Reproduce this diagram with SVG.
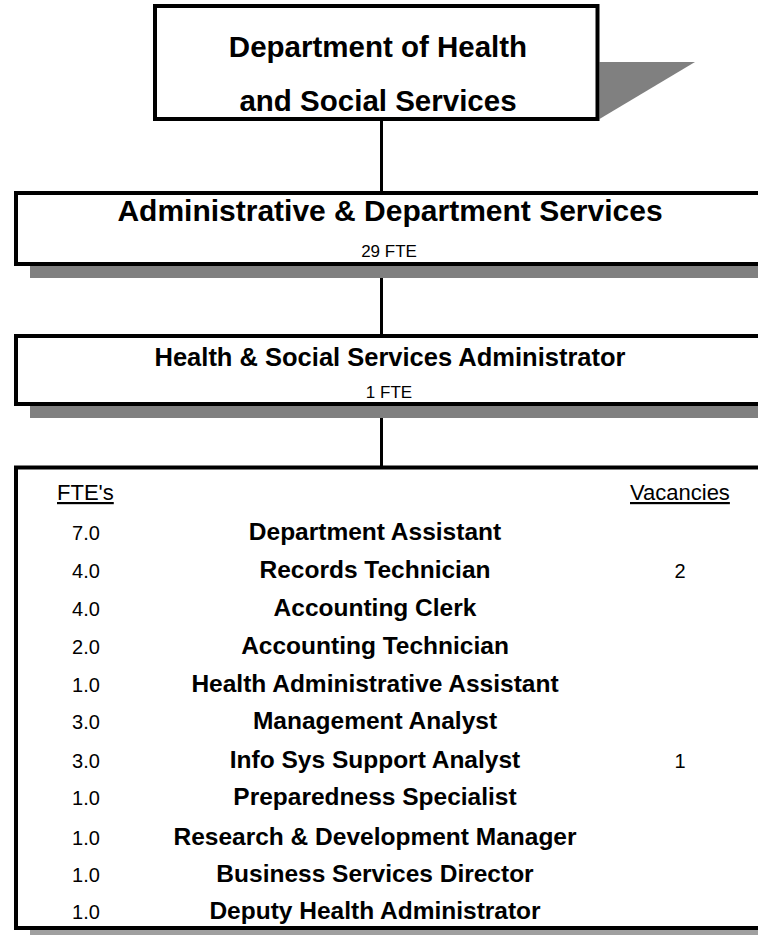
<svg xmlns="http://www.w3.org/2000/svg" width="758" height="935" viewBox="0 0 758 935">
<style>
.box{fill:#fff;stroke:#000;stroke-width:4}
.shadow{fill:#808080}
.t{font-family:"Liberation Sans",Arial,sans-serif;fill:#000}
.b{font-weight:bold}
.c{text-anchor:middle}
.conn{stroke:#000;stroke-width:3;fill:none}
</style>
<rect width="758" height="935" fill="#fff"/>
<g id="connectors">
<line class="conn" x1="381.5" y1="121" x2="381.5" y2="193"/>
<line class="conn" x1="381.5" y1="266" x2="381.5" y2="336"/>
<line class="conn" x1="381.5" y1="406" x2="381.5" y2="467"/>
</g>
<g id="dept">
<polygon class="shadow" points="599.5,62 695,62 599.5,119"/>
<rect class="box" x="155" y="6" width="442.5" height="113"/>
<text class="t b c" x="378" y="57" font-size="29.5">Department of Health</text>
<text class="t b c" x="378" y="111" font-size="29.5">and Social Services</text>
</g>
<g id="admin">
<rect class="shadow" x="30" y="266" width="740" height="12"/>
<rect class="box" x="16" y="193" width="760" height="71"/>
<text class="t b c" x="390" y="221" font-size="30">Administrative &amp; Department Services</text>
<text class="t c" x="389" y="257" font-size="17">29 FTE</text>
</g>
<g id="hssa">
<rect class="shadow" x="30" y="406" width="740" height="12"/>
<rect class="box" x="16" y="336" width="760" height="68"/>
<text class="t b c" x="390" y="366" font-size="25.5">Health &amp; Social Services Administrator</text>
<text class="t c" x="389" y="398" font-size="17">1 FTE</text>
</g>
<g id="staff">
<rect x="30" y="930" width="740" height="5" fill="#a0a0a0"/>
<rect class="box" x="16" y="467.5" width="760" height="460.5"/>
<text class="t" x="57" y="500" font-size="22" text-decoration="underline">FTE's</text>
<text class="t" x="630" y="500" font-size="22" text-decoration="underline">Vacancies</text>
<g class="t" font-size="20">
<text class="c" x="86" y="540">7.0</text>
<text class="c" x="86" y="577.5">4.0</text>
<text class="c" x="86" y="616">4.0</text>
<text class="c" x="86" y="654">2.0</text>
<text class="c" x="86" y="691.5">1.0</text>
<text class="c" x="86" y="729">3.0</text>
<text class="c" x="86" y="767.5">3.0</text>
<text class="c" x="86" y="805">1.0</text>
<text class="c" x="86" y="845">1.0</text>
<text class="c" x="86" y="882">1.0</text>
<text class="c" x="86" y="919">1.0</text>
<text class="c" x="680" y="577.5">2</text>
<text class="c" x="680" y="767.5">1</text>
</g>
<g class="t b" font-size="24.5">
<text class="c" x="375" y="540">Department Assistant</text>
<text class="c" x="375" y="577.5">Records Technician</text>
<text class="c" x="375" y="616">Accounting Clerk</text>
<text class="c" x="375" y="654">Accounting Technician</text>
<text class="c" x="375" y="691.5">Health Administrative Assistant</text>
<text class="c" x="375" y="729">Management Analyst</text>
<text class="c" x="375" y="767.5">Info Sys Support Analyst</text>
<text class="c" x="375" y="805">Preparedness Specialist</text>
<text class="c" x="375" y="845">Research &amp; Development Manager</text>
<text class="c" x="375" y="882">Business Services Director</text>
<text class="c" x="375" y="919">Deputy Health Administrator</text>
</g>
</g>
</svg>
